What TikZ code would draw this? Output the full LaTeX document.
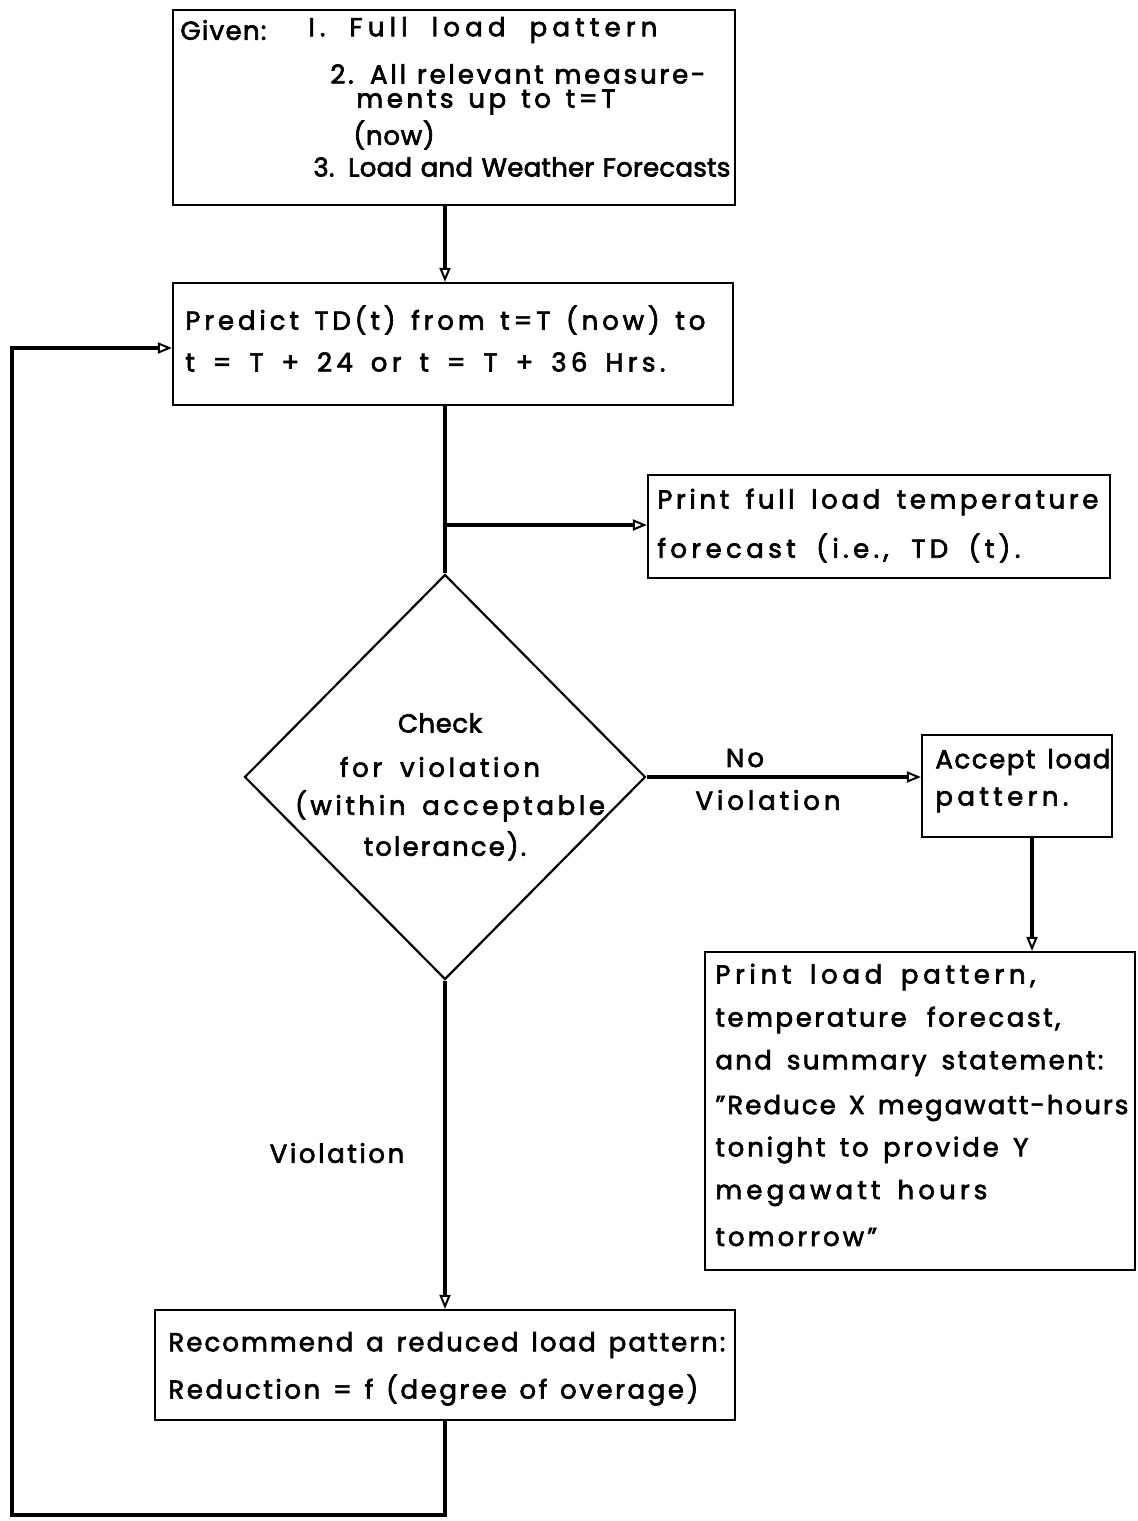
\documentclass[tikz,border=0pt]{standalone}
\usepackage{fontspec}
\setmainfont{Poppins}[FakeBold=2.5]
\usetikzlibrary{shapes.geometric,arrows.meta}
\newcommand{\fw}[2]{\makebox[#1][s]{#2}}
\newcommand{\ls}[1]{\addfontfeature{LetterSpace=#1}}
\begin{document}
\begin{tikzpicture}[x=0.5pt,y=-0.5pt,
  box/.style={draw,line width=1.1pt,rectangle,inner sep=0pt},
  txt/.style={anchor=west,inner sep=0pt,font=\fontsize{13}{15}\selectfont},
  ctxt/.style={anchor=center,inner sep=0pt,font=\fontsize{13}{15}\selectfont},
  conn/.style={line width=1.6pt},
  arr/.style={line width=1.6pt,-{Triangle[open,length=7pt,width=5.5pt,line width=1pt]}}]
\useasboundingbox (0,0) rectangle (1138,1521);
% boxes
\node[box,minimum width=281pt,minimum height=97.5pt] (given) at (454,107.5) {};
\node[box,minimum width=280pt,minimum height=61pt] (predict) at (453,344) {};
\node[box,minimum width=231pt,minimum height=51.5pt] (printfull) at (879,526.5) {};
\node[draw,line width=1.1pt,diamond,inner sep=0pt,minimum width=200.5pt,minimum height=202.5pt] (dia) at (445,777) {};
\node[box,minimum width=95pt,minimum height=51pt] (accept) at (1017,786) {};
\node[box,minimum width=215pt,minimum height=159pt] (printload) at (920,1111) {};
\node[box,minimum width=290pt,minimum height=55pt] (recommend) at (445,1365) {};
% texts
\node[txt] (g0) at (180,30) {\ls{5}Given:};
\node[txt] (g1) at (308,30) {\ls{20}\fw{174.5pt}{I. Full load pattern}};
\node[txt] (g2) at (330,74) {\ls{11}\fw{187.5pt}{2. All relevant measure-}};
\node[txt] (g3) at (356,102) {\ls{14}\fw{129.5pt}{ments up to t=T}};
\node[txt] (g4) at (353,135) {\ls{3}(now)};
\node[txt] (g5) at (313,167) {\ls{1}\fw{208.5pt}{3. Load and Weather Forecasts}};
\node[txt] (p1) at (185,320) {\ls{15}\fw{260pt}{Predict TD(t) from t=T (now) to}};
\node[txt] (p2) at (185,362) {\ls{17}\fw{240pt}{t = T + 24 or t = T + 36 Hrs.}};
\node[txt] (f1) at (657,502) {\ls{14}\fw{220.5pt}{Print full load temperature}};
\node[txt] (f2) at (657,548) {\ls{17}\fw{181.5pt}{forecast (i.e., TD (t).}};
\node[ctxt] (d1) at (440,723) {\ls{2}Check};
\node[ctxt] (d2) at (440,767) {\ls{14}\fw{100pt}{for violation}};
\node[ctxt] (d3) at (450,806) {\ls{14}\fw{155pt}{(within acceptable}};
\node[ctxt] (d4) at (445,846) {\ls{8}tolerance).};
\node[ctxt] (nv1) at (745,758) {\ls{12}No};
\node[ctxt] (nv2) at (768,800) {\ls{15}Violation};
\node[txt] (a1) at (935,762) {\ls{6}\fw{87.5pt}{Accept load}};
\node[txt] (a2) at (935,800) {\ls{17}pattern.};
\node[txt] (l1) at (715,977) {\ls{18}\fw{160pt}{Print load pattern,}};
\node[txt] (l2) at (715,1020) {\ls{10}\fw{172.5pt}{temperature forecast,}};
\node[txt] (l3) at (715,1063) {\ls{9}\fw{194pt}{and summary statement:}};
\node[txt] (l4) at (715,1108) {\ls{8}\fw{206.5pt}{"Reduce X megawatt-hours}};
\node[txt] (l5) at (715,1150) {\ls{11}\fw{156.5pt}{tonight to provide Y}};
\node[txt] (l6) at (715,1193) {\ls{16}\fw{136pt}{megawatt hours}};
\node[txt] (l7) at (715,1237) {\ls{12}tomorrow"};
\node[ctxt] (vl) at (337,1153) {\ls{10}Violation};
\node[txt] (r1) at (168,1345) {\ls{8}\fw{278.5pt}{Recommend a reduced load pattern:}};
\node[txt] (r2) at (168,1390) {\ls{10}\fw{265pt}{Reduction = f (degree of overage)}};
% coordinates
\coordinate (cx) at (445,0);
\coordinate (px) at (1032,0);
\coordinate (br) at (445,525);
\coordinate (lb) at (12,1515);
\coordinate (lt) at (12,348);
% connectors
\draw[arr] (given.south -| cx) -- (predict.north -| cx);
\draw[conn] (predict.south -| cx) -- (dia.north);
\draw[arr] (br) -- (br -| printfull.west);
\draw[arr] (dia.east) -- (dia.east -| accept.west);
\draw[arr] (accept.south -| px) -- (printload.north -| px);
\draw[arr] (dia.south) -- (recommend.north -| cx);
\draw[arr] (recommend.south -| cx) |- (lb) -- (lt) -- (lt -| predict.west);
\end{tikzpicture}
\end{document}
